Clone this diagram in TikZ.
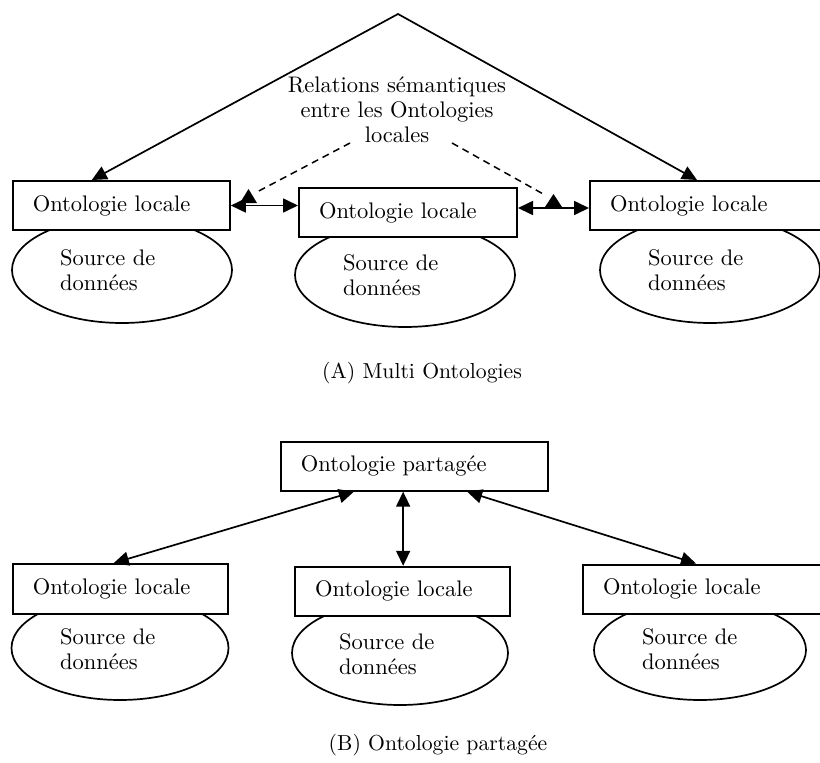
\documentclass[tikz,border=0pt]{standalone}
\usetikzlibrary{arrows.meta,shapes.geometric}

% Latin Modern at its 10pt design size, scaled to any size
\DeclareFontFamily{TU}{lmten}{}
\DeclareFontShape{TU}{lmten}{m}{n}{<-> "[lmroman10-regular]:mapping=tex-text"}{}

\begin{document}
\begin{tikzpicture}[x=1pt,y=-1pt,
  txt/.style={font=\fontfamily{lmten}\fontsize{22.5}{25}\selectfont},
  obox/.style={draw, fill=white, line width=2pt, minimum height=49pt,
    inner xsep=20pt, inner ysep=0pt, align=left, txt},
  src/.style={draw, ellipse, line width=1.7pt, inner sep=0pt},
  srctxt/.style={anchor=west, align=left, inner sep=0pt, txt},
  captxt/.style={inner sep=0pt, font=\fontfamily{lmten}\fontsize{21.7}{25}\selectfont},
  both/.style={line width=1.7pt,
    {Triangle[length=15pt,width=14pt]}-{Triangle[length=15pt,width=14pt]}},
  rel/.style={line width=1.5pt, dash pattern=on 7pt off 5pt},
]
\useasboundingbox (0,0) rectangle (820,763);

% ---------- (A) Multi Ontologies ----------
% data sources (drawn first, the ontology boxes sit on top)
\node[src, minimum width=220pt, minimum height=106pt] (LEA) at (122,270) {};
\node[src, minimum width=220pt, minimum height=104pt] (MEA) at (405,275) {};
\node[src, minimum width=220pt, minimum height=106pt] (REA) at (710,270) {};

\node[obox, text width=177pt] (LA) at (121.3,205.5) {Ontologie locale};
\node[obox, text width=178pt] (MA) at (408,212.5) {Ontologie locale};
\node[obox, text width=200pt] (RA) at (710,205.5) {Ontologie locale};

\node[srctxt] (LSA) at (60,270.5) {Source de\\données};
\node[srctxt] (MSA) at (343,275) {Source de\\données};
\node[srctxt] (RSA) at (648,270.5) {Source de\\données};

\node[txt, align=center, inner sep=0pt] (REL) at (397,110)
  {Relations sémantiques\\entre les Ontologies\\locales};

% the roof joining the two outer ontologies
\coordinate (apex) at (398,14);
\draw[both] ([xshift=80pt]LA.north west) -- (apex) -- ([xshift=108pt]RA.north west);

% links between neighbouring local ontologies
\draw[both] (LA.east) -- (LA.east -| MA.west);
\coordinate (mr) at ([yshift=4.5pt]MA.east);
\draw[both] (mr) -- (mr -| RA.west);

% dashed pointers from the label to the links
\coordinate (dls) at (350,143);
\coordinate (dle) at (255,193);
\coordinate (drs) at (452,143);
\coordinate (dre) at (545,195);
\draw[rel] (dls) -- (dle);
\draw[rel] (drs) -- (dre);
\fill (240,203) -- (257,203) -- (248.5,189) -- cycle;
\fill (545,207) -- (562,207) -- (553.5,194) -- cycle;

\node[captxt] (CA) at (422,373) {(A) Multi Ontologies};

% ---------- (B) Ontologie partagée ----------
\node[src, minimum width=217pt, minimum height=104pt] (LEB) at (120,648) {};
\node[src, minimum width=216pt, minimum height=104pt] (MEB) at (400,653) {};
\node[src, minimum width=212pt, minimum height=100pt] (REB) at (700,650) {};

\node[obox, text width=227pt] (SB) at (414.35,466.2) {Ontologie partagée};
\node[obox, text width=175pt, minimum height=50pt] (LB) at (120.3,589) {Ontologie locale};
\node[obox, text width=175pt] (MB) at (402.7,591.3) {Ontologie locale};
\node[obox, text width=200pt] (RB) at (703,589) {Ontologie locale};

\node[srctxt] (LSB) at (60,649.5) {Source de\\données};
\node[srctxt] (MSB) at (339,654) {Source de\\données};
\node[srctxt] (RSB) at (642,649.5) {Source de\\données};

\coordinate (sbm) at ([xshift=123.3pt]SB.south west);
\draw[both] ([xshift=74pt]SB.south west) -- ([xshift=102pt]LB.north west);
\draw[both] (sbm) -- (sbm |- MB.north);
\draw[both] ([xshift=187.3pt]SB.south west) -- ([xshift=114pt]RB.north west);

\node[captxt] (CB) at (438,745) {(B) Ontologie partagée};
\end{tikzpicture}
\end{document}
